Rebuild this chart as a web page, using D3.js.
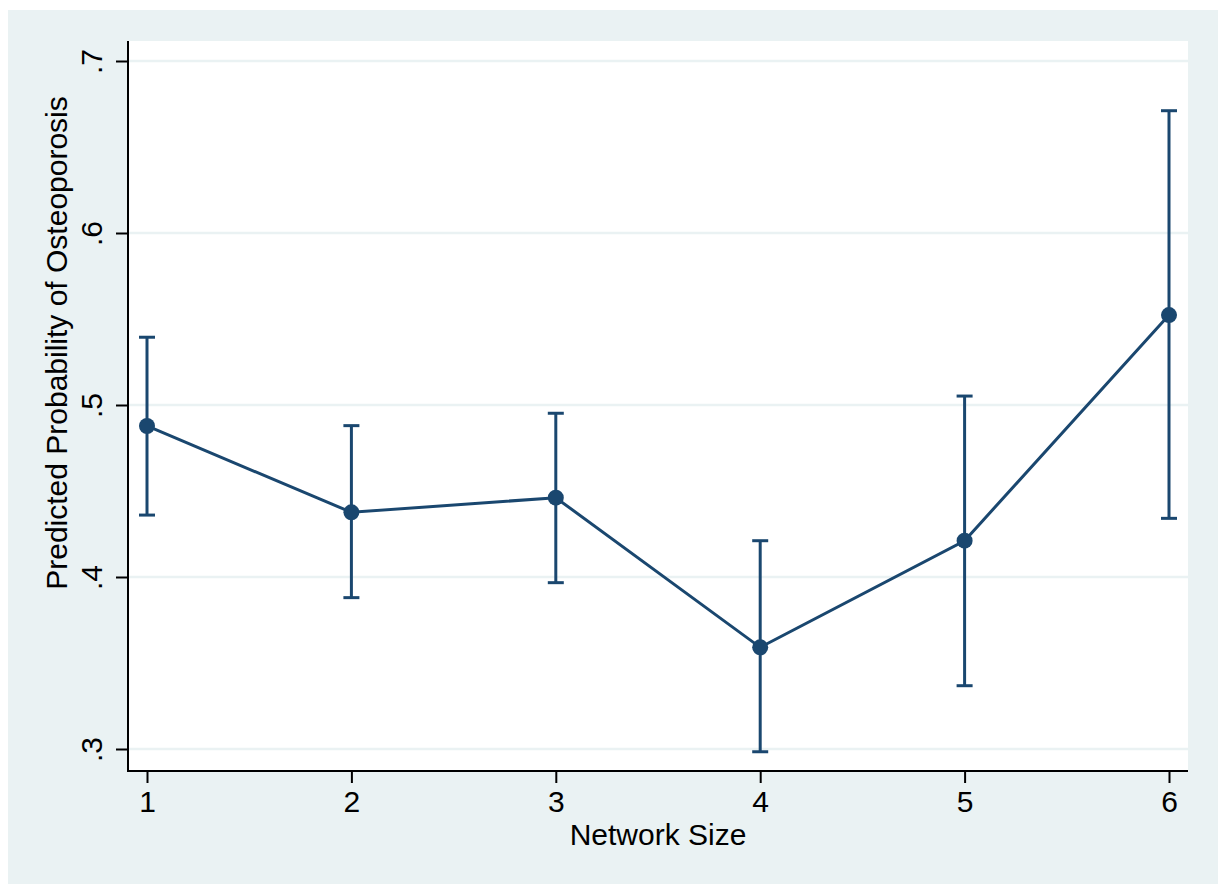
<!DOCTYPE html>
<html>
<head>
<meta charset="utf-8">
<script src="https://cdn.jsdelivr.net/npm/d3@7"></script>
<style>
  html, body { margin: 0; padding: 0; background: #ffffff; }
  svg { display: block; }
  text { font-family: "Liberation Sans", Arial, Helvetica, sans-serif; fill: #000; }
</style>
</head>
<body>
<svg id="chart" width="1225" height="884"></svg>
<script>
// Data
const networkSize = [1, 2, 3, 4, 5, 6];
const predicted   = [0.4878, 0.4376, 0.4461, 0.3591, 0.4211, 0.5523];
const upperCI     = [0.5394, 0.4880, 0.4952, 0.4211, 0.5052, 0.6711];
const lowerCI     = [0.4360, 0.3880, 0.3967, 0.2984, 0.3368, 0.4341];
const yTicks      = [0.3, 0.4, 0.5, 0.6, 0.7];
const yTickLabels = [".3", ".4", ".5", ".6", ".7"];
const xTicks      = [1, 2, 3, 4, 5, 6];
const xTitle = "Network Size";
const yTitle = "Predicted Probability of Osteoporosis";

const svg = d3.select("#chart");
const W = 1225, H = 884;
const bg = "#EAF2F3";
const navy = "#1A476F";

// outer background
svg.append("rect").attr("x", 8).attr("y", 10).attr("width", 1210).attr("height", H - 10).attr("fill", bg);

const plot = { left: 128, right: 1188, top: 41, bottom: 771 };
svg.append("rect").attr("x", plot.left).attr("y", plot.top)
  .attr("width", plot.right - plot.left).attr("height", plot.bottom - plot.top).attr("fill", "#fff");

const x = d3.scaleLinear().domain([1, 6]).range([147, 1169]);
const y = d3.scaleLinear().domain([0.3, 0.7]).range([749, 61]);

// gridlines
svg.append("g").selectAll("line").data(yTicks).join("line")
  .attr("x1", plot.left).attr("x2", plot.right)
  .attr("y1", d => y(d)).attr("y2", d => y(d))
  .attr("stroke", bg).attr("stroke-width", 2.5);

// y axis
const yAxis = d3.axisLeft(y).tickValues(yTicks).tickSize(12).tickFormat((d, i) => yTickLabels[i]);
const gy = svg.append("g").attr("transform", `translate(${plot.left},0)`).call(yAxis);
gy.select(".domain").remove();
gy.selectAll(".tick line").attr("stroke", "#000").attr("stroke-width", 2);
gy.selectAll(".tick text")
  .attr("x", 0).attr("dy", null).attr("y", 0)
  .attr("text-anchor", "middle")
  .attr("transform", "translate(-26,0) rotate(-90)")
  .style("font-size", "30px").style("font-family", "'Liberation Sans', Arial, sans-serif").attr("fill", "#000");
svg.append("line").attr("x1", plot.left).attr("x2", plot.left)
  .attr("y1", plot.top).attr("y2", plot.bottom + 1).attr("stroke", "#000").attr("stroke-width", 2);

// x axis
const xAxis = d3.axisBottom(x).tickValues(xTicks).tickSize(12).tickFormat(d3.format("d"));
const gx = svg.append("g").attr("transform", `translate(0,${plot.bottom})`).call(xAxis);
gx.select(".domain").remove();
gx.selectAll(".tick line").attr("stroke", "#000").attr("stroke-width", 2);
gx.selectAll(".tick text").attr("y", 41).attr("dy", null)
  .style("font-size", "30px").style("font-family", "'Liberation Sans', Arial, sans-serif").attr("fill", "#000");
svg.append("line").attr("x1", plot.left - 1).attr("x2", plot.right)
  .attr("y1", plot.bottom).attr("y2", plot.bottom).attr("stroke", "#000").attr("stroke-width", 2);

// titles
svg.append("text").attr("x", (plot.left + plot.right) / 2).attr("y", 845)
  .attr("text-anchor", "middle").style("font-size", "30px").text(xTitle);
svg.append("text").attr("transform", `translate(67,343) rotate(-90)`)
  .attr("text-anchor", "middle").style("font-size", "30px").text(yTitle);

// data
const rows = networkSize.map((n, i) => ({ n, p: predicted[i], lo: lowerCI[i], hi: upperCI[i] }));

// error bars
const eb = svg.append("g").attr("stroke", navy).attr("stroke-width", 3).attr("fill", "none");
eb.selectAll("line.v").data(rows).join("line").attr("class", "v")
  .attr("x1", d => x(d.n)).attr("x2", d => x(d.n))
  .attr("y1", d => y(d.lo)).attr("y2", d => y(d.hi));
eb.selectAll("line.t").data(rows).join("line").attr("class", "t")
  .attr("x1", d => x(d.n) - 8).attr("x2", d => x(d.n) + 8)
  .attr("y1", d => y(d.hi)).attr("y2", d => y(d.hi));
eb.selectAll("line.b").data(rows).join("line").attr("class", "b")
  .attr("x1", d => x(d.n) - 8).attr("x2", d => x(d.n) + 8)
  .attr("y1", d => y(d.lo)).attr("y2", d => y(d.lo));

// line
svg.append("path").datum(rows)
  .attr("d", d3.line().x(d => x(d.n)).y(d => y(d.p)))
  .attr("fill", "none").attr("stroke", navy).attr("stroke-width", 3);

// markers
svg.append("g").selectAll("circle").data(rows).join("circle")
  .attr("cx", d => x(d.n)).attr("cy", d => y(d.p)).attr("r", 8).attr("fill", navy);
</script>
</body>
</html>
